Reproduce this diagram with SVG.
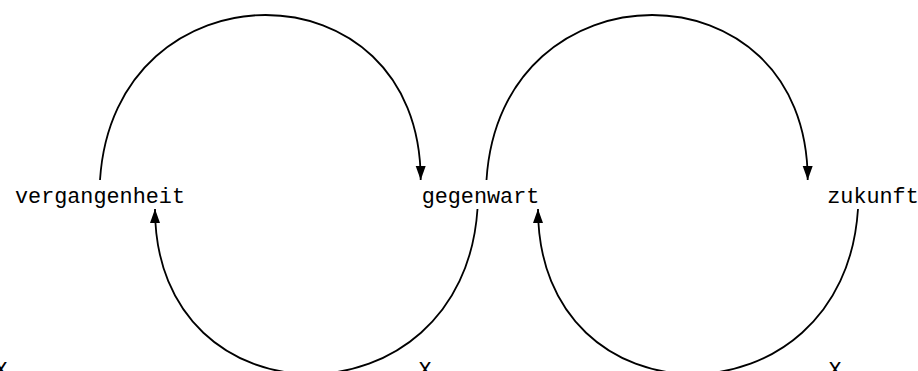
<svg xmlns="http://www.w3.org/2000/svg" width="918" height="371" viewBox="0 0 918 371">
<style>
.lbl{font-family:"Liberation Mono","DejaVu Sans Mono",monospace;font-size:21.8px;fill:#000;text-anchor:middle}
.edge{fill:none;stroke:#000;stroke-width:1.8;marker-end:url(#arr)}
</style>
<defs>
<marker id="arr" markerUnits="userSpaceOnUse" markerWidth="16" markerHeight="12" refX="14" refY="5" orient="auto">
<path d="M0,0 L14,5 L0,10 Z" fill="#000"/>
</marker>
</defs>
<rect width="918" height="371" fill="#fff"/>
<g id="connectors">
<path class="edge" d="M100,180 C114,-40 420.7,-40 420.7,180"/>
<path class="edge" d="M477.5,209 C463,429 155,429 155,209"/>
<path class="edge" d="M486.5,180 C500,-40 807.7,-40 807.7,180"/>
<path class="edge" d="M858,209 C844,429 538,429 538,209"/>
</g>
<g id="vergangenheit"><text class="lbl" x="100" y="203">vergangenheit</text></g>
<g id="gegenwart"><text class="lbl" x="480.5" y="203">gegenwart</text></g>
<g id="zukunft"><text class="lbl" x="873" y="203">zukunft</text></g>
<g id="x1"><text class="lbl" x="1" y="377">X</text></g>
<g id="x2"><text class="lbl" x="425" y="377">X</text></g>
<g id="x3"><text class="lbl" x="835" y="377">X</text></g>
</svg>
